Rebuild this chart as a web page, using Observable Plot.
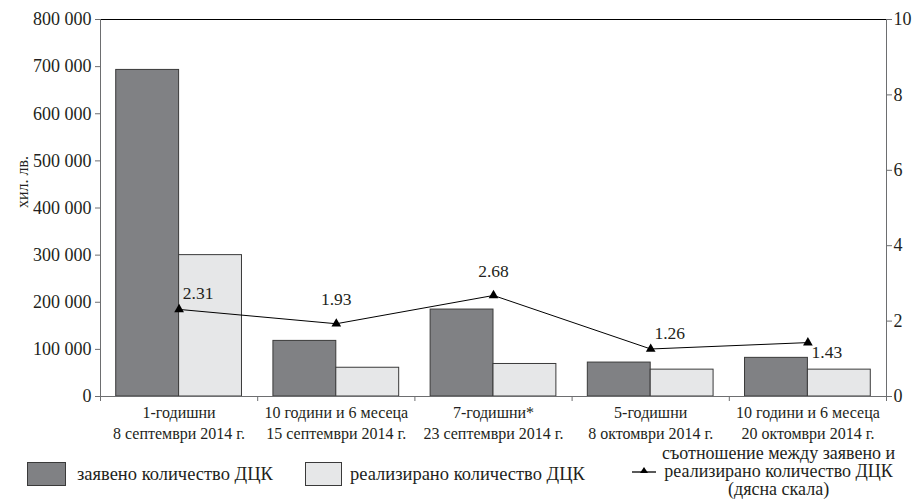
<!DOCTYPE html>
<html>
<head>
<meta charset="utf-8">
<script src="https://cdn.jsdelivr.net/npm/d3@7"></script>
<script src="https://cdn.jsdelivr.net/npm/@observablehq/plot@0.6"></script>
<style>
  body { margin: 0; background: #fff; }
  #wrap { position: relative; width: 915px; height: 500px; overflow: hidden; font-family: "Liberation Serif", "Times New Roman", "DejaVu Serif", serif; color: #231f20; }
  .lg { position: absolute; font-size: 18.5px; line-height: 20px; white-space: nowrap; }
  .sw { position: absolute; border: 1px solid #3a3a3a; box-sizing: border-box; }
  svg text { font-family: "Liberation Serif", "Times New Roman", "DejaVu Serif", serif; }
</style>
</head>
<body>
<div id="wrap"></div>
<script>
const categories = ["1-годишни", "10 години и 6 месеца", "7-годишни*", "5-годишни", "10 години и 6 месеца"];
const dates = ["8 септември 2014 г.", "15 септември 2014 г.", "23 септември 2014 г.", "8 октомври 2014 г.", "20 октомври 2014 г."];
const declared = [693000, 118000, 184500, 72000, 82000];
const realized = [300000, 61000, 69000, 57000, 57000];
const ratio = [2.31, 1.93, 2.68, 1.26, 1.43];
const leftTicks = [0, 100000, 200000, 300000, 400000, 500000, 600000, 700000, 800000];
const rightTicks = [0, 2, 4, 6, 8, 10];
const seriesNames = ["заявено количество ДЦК", "реализирано количество ДЦК", "съотношение между заявено и\nреализирано количество ДЦК\n(дясна скала)"];

const K = 800000 / 10; // right-scale factor
const idx = categories.map((_, i) => i);
const rows = idx.map(i => ({i, cat: categories[i], date: dates[i], d: declared[i], r: realized[i], q: ratio[i]}));
const fmt = d => d3.format(",")(d).replace(/,/g, " ");
const ink = "#231f20";
const axisGray = "#6d6e70";
const serif = "'Liberation Serif', 'Times New Roman', 'DejaVu Serif', serif";

const chart = Plot.plot({
  width: 915,
  height: 445,
  marginLeft: 100,
  marginRight: 29,
  marginTop: 19,
  marginBottom: 49,
  style: {fontFamily: serif, fontSize: "16px", color: ink, background: "#fff"},
  x: {type: "linear", domain: [0, categories.length], axis: null},
  y: {type: "linear", domain: [0, 800000], axis: null},
  marks: [
    Plot.rectY(rows, {x1: d => d.i + 0.1, x2: d => d.i + 0.5, y1: 0, y2: "d", fill: "#808184", stroke: "#3a3a3a", strokeWidth: 1}),
    Plot.rectY(rows, {x1: d => d.i + 0.5, x2: d => d.i + 0.9, y1: 0, y2: "r", fill: "#e6e7e8", stroke: "#3a3a3a", strokeWidth: 1}),
    // frame lines
    Plot.ruleY([800000], {stroke: "#000", strokeWidth: 1}),
    Plot.ruleY([0], {stroke: axisGray, strokeWidth: 1}),
    Plot.ruleX([0, categories.length], {stroke: axisGray, strokeWidth: 1}),
    // left axis
    Plot.axisY(leftTicks, {anchor: "left", tickSize: 5, tickPadding: 4, stroke: axisGray, tickFormat: fmt, fontSize: 18, fill: ink, label: null}),
    // right axis
    Plot.axisY(rightTicks.map(t => t * K), {anchor: "right", tickSize: 5, tickPadding: 2, stroke: axisGray, tickFormat: d => d / K, fontSize: 18, fill: ink, label: null}),
    // x boundary ticks
    Plot.axisX(d3.range(categories.length + 1), {anchor: "bottom", tickSize: 5, stroke: axisGray, tickFormat: () => "", label: null}),
    // x labels
    Plot.text(rows, {x: d => d.i + 0.5, y: 0, text: d => d.cat + "\n" + d.date, dy: 6, lineAnchor: "top", lineHeight: 1.35, fontSize: 16, fill: ink}),
    // y axis title
    Plot.text(["хил. лв."], {frameAnchor: "left", dx: -78, rotate: -90, fontSize: 16, fill: ink}),
    // ratio line
    Plot.line(rows, {x: d => d.i + 0.5, y: d => d.q * K, stroke: "#000", strokeWidth: 1}),
    Plot.dot(rows, {x: d => d.i + 0.5, y: d => d.q * K, symbol: "triangle", r: 3.6, fill: "#000"}),
    Plot.text(rows.filter(d => d.i === 0 || d.i === 3), {x: d => d.i + 0.5, y: d => d.q * K, text: d => d.q.toFixed(2), dx: 19, dy: -16, fontSize: 17.5, fill: ink}),
    Plot.text(rows.filter(d => d.i === 1 || d.i === 2), {x: d => d.i + 0.5, y: d => d.q * K, text: d => d.q.toFixed(2), dy: -24, fontSize: 17.5, fill: ink}),
    Plot.text(rows.filter(d => d.i === 4), {x: d => d.i + 0.5, y: d => d.q * K, text: d => d.q.toFixed(2), dx: 19, dy: 10, fontSize: 17.5, fill: ink})
  ]
});
chart.style.position = "absolute";
chart.style.left = "0px";
chart.style.top = "0px";
const wrap = document.getElementById("wrap");
wrap.appendChild(chart);

// legend (HTML, below the plot)
function add(html, css, cls) {
  const el = document.createElement("div");
  el.className = cls;
  Object.assign(el.style, css);
  el.innerHTML = html;
  wrap.appendChild(el);
}
add("", {left: "27px", top: "462px", width: "39px", height: "24px", background: "#808184"}, "sw");
add(seriesNames[0], {left: "77px", top: "464px"}, "lg");
add("", {left: "305px", top: "462px", width: "37px", height: "24px", background: "#e6e7e8"}, "sw");
add(seriesNames[1], {left: "350px", top: "464px"}, "lg");
const l3 = document.createElement("div");
l3.className = "lg";
Object.assign(l3.style, {left: "662px", top: "444px", textAlign: "center", fontSize: "18px", lineHeight: "18px", whiteSpace: "pre"});
l3.textContent = seriesNames[2];
wrap.appendChild(l3);
const mk = document.createElementNS("http://www.w3.org/2000/svg", "svg");
mk.setAttribute("width", "24"); mk.setAttribute("height", "10");
Object.assign(mk.style, {position: "absolute", left: "632px", top: "466px"});
mk.innerHTML = '<line x1="0" y1="6" x2="24" y2="6" stroke="#000" stroke-width="1.3"/><path d="M12,1 L16,7 L8,7 Z" fill="#000"/>';
wrap.appendChild(mk);
</script>
</body>
</html>
